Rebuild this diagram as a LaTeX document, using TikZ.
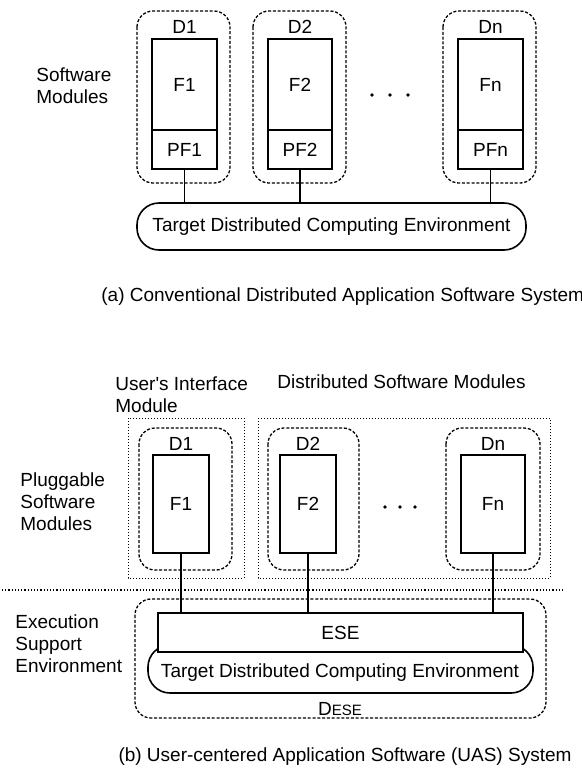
\documentclass[tikz,border=0pt]{standalone}
\usepackage{fontspec}
\setmainfont{Liberation Sans}
\usetikzlibrary{fit}

\begin{document}
\begin{tikzpicture}[%
      x=0.5pt, y=-0.5pt,
      font=\fontsize{9.5}{11}\selectfont,
      box/.style={draw, line width=0.8pt, inner sep=0pt},
      pill/.style={draw, line width=0.8pt, inner sep=0pt, rounded corners=11pt, fill=white},
      dom/.style={draw, line width=0.65pt, dash pattern=on 1.5pt off 0.9pt, rounded corners=8pt},
      grp/.style={draw, line width=0.5pt, densely dotted},
      wire/.style={draw, line width=0.8pt},
      txt/.style={inner sep=0pt},
      ]
      \useasboundingbox (0,0) rectangle (582,773);

      % (a) conventional system
      \node[txt, align=left, anchor=west] (swm) at (36,86) {Software\\Modules};

      \draw[dom] (137,11) rectangle (230,183);
      \draw[dom] (253,11) rectangle (346,183);
      \draw[dom] (443,11) rectangle (536,183);

      \node[box, fit={(152,39) (217,130)}] (Fa1) {};
      \node[box, fit={(268,39) (332,130)}] (Fa2) {};
      \node[box, fit={(458,39) (523,130)}] (Fan) {};
      \node[box, fit={(152,130) (217,169)}] (PF1) {};
      \node[box, fit={(268,130) (332,169)}] (PF2) {};
      \node[box, fit={(458,130) (523,169)}] (PFn) {};
      \node[txt] at (Fa1.center) {F1};
      \node[txt] at (Fa2.center) {F2};
      \node[txt] at (Fan.center) {Fn};
      \node[txt] at (PF1.center) {PF1};
      \node[txt] at (PF2.center) {PF2};
      \node[txt] at (PFn.center) {PFn};

      \node[txt] (Da1) at (Fa1 |- 0,27) {D1};
      \node[txt] (Da2) at (Fa2 |- 0,27) {D2};
      \node[txt] (Dan) at (Fan |- 0,27) {Dn};

      \fill (372,95) circle (0.9pt);
      \fill (390,95) circle (0.9pt);
      \fill (408,95) circle (0.9pt);

      \node[pill, fit={(137,203) (526,250)}] (TDCEa) {};
      \node[txt] at (TDCEa.center) {Target Distributed Computing Environment};

      \draw[wire] (PF1.south) -- (PF1.south |- TDCEa.north);
      \draw[wire] (PF2.south) -- (PF2.south |- TDCEa.north);
      \draw[wire] (PFn.south) -- (PFn.south |- TDCEa.north);

      \node[txt, anchor=west] (capa) at (101,297) {(a) Conventional Distributed Application Software System};

      % (b) user-centered system
      \node[txt, align=left, anchor=west] (uim) at (115,395) {User\textquotesingle s Interface\\Module};
      \node[txt, anchor=west] (dsm) at (277,382) {Distributed Software Modules};
      \node[txt, align=left, anchor=west] (psm) at (20,502) {Pluggable\\Software\\Modules};

      \draw[grp] (128,418) rectangle (244,578);
      \draw[grp] (258,418) rectangle (550,578);

      \draw[dom] (139,428) rectangle (232,570);
      \draw[dom] (268,428) rectangle (359,570);
      \draw[dom] (446,428) rectangle (540,570);

      \node[box, fit={(153,455) (209,553)}] (Fb1) {};
      \node[box, fit={(280,455) (336,553)}] (Fb2) {};
      \node[box, fit={(461,455) (525,553)}] (Fbn) {};
      \node[txt] at (Fb1.center) {F1};
      \node[txt] at (Fb2.center) {F2};
      \node[txt] at (Fbn.center) {Fn};

      \node[txt] (Db1) at (Fb1 |- 0,444) {D1};
      \node[txt] (Db2) at (Fb2 |- 0,444) {D2};
      \node[txt] (Dbn) at (Fbn |- 0,444) {Dn};

      \fill (385,507) circle (0.9pt);
      \fill (400,507) circle (0.9pt);
      \fill (415,507) circle (0.9pt);

      \draw[line width=0.6pt, densely dotted] (2,590) -- (563,590);

      \node[txt, align=left, anchor=west] (ese) at (15,644) {Execution\\Support\\Environment};

      \draw[dom] (135,599) rectangle (546,718);
      \node[pill, fit={(148,645) (533,693)}] (TDCEb) {};
      \node[txt] at (340,673) {Target Distributed Computing Environment};
      \node[box, fill=white, fit={(158,613) (523,652)}] (ESE) {};
      \node[txt] at (ESE.center) {ESE};
      \node[txt] (DESE) at (340,709) {D{\fontsize{7.5}{9}\selectfont ESE}};

      \draw[wire] (Fb1.south) -- (Fb1.south |- ESE.north);
      \draw[wire] (Fb2.south) -- (Fb2.south |- ESE.north);
      \draw[wire] (Fbn.south) -- (Fbn.south |- ESE.north);

      \node[txt] (capb) at (345,757) {(b) User-centered Application Software (UAS) System};
\end{tikzpicture}
\end{document}
